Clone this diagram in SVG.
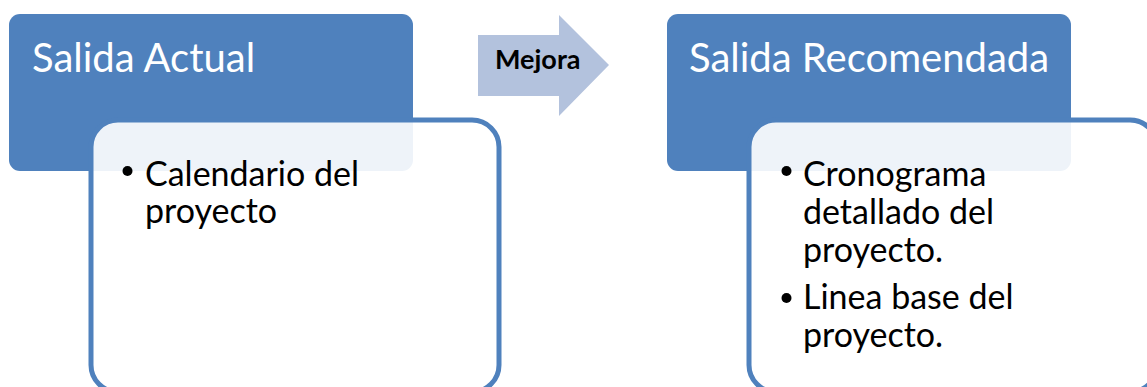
<svg xmlns="http://www.w3.org/2000/svg" width="1147" height="387" viewBox="0 0 1147 387">
  <style>
    .head { fill: #4F81BD; }
    .body { fill: #FFFFFF; fill-opacity: 0.9; stroke: #4F81BD; stroke-width: 5; }
    .title { font-family: Lato, "Liberation Sans", sans-serif; font-size: 40px; fill: #FFFFFF; }
    .item { font-family: Lato, "Liberation Sans", sans-serif; font-size: 34px; fill: #000000; }
    .dot { fill: #000000; }
    .arrow { fill: #B3C2DD; }
    .label { font-family: Lato, "Liberation Sans", sans-serif; font-size: 27px; font-weight: bold; fill: #000000; }
  </style>
  <rect width="1147" height="387" fill="#FFFFFF"/>

  <!-- Current output -->
  <g id="salida-actual">
    <rect class="head" x="9" y="14" width="404" height="157" rx="11"/>
    <text class="title" x="32" y="72">Salida Actual</text>
  </g>
  <g id="salida-actual-detalle">
    <rect class="body" x="91" y="120" width="408" height="272" rx="27"/>
    <circle class="dot" cx="127.5" cy="171" r="5"/>
    <text class="item" x="145" y="186">Calendario del</text>
    <text class="item" x="145" y="223">proyecto</text>
  </g>

  <!-- Recommended output -->
  <g id="salida-recomendada">
    <rect class="head" x="667" y="14" width="404" height="157" rx="11"/>
    <text class="title" x="689" y="72">Salida Recomendada</text>
  </g>
  <g id="salida-recomendada-detalle">
    <rect class="body" x="749" y="120" width="408" height="272" rx="27"/>
    <circle class="dot" cx="786.5" cy="171" r="5"/>
    <text class="item" x="803" y="186">Cronograma</text>
    <text class="item" x="803" y="224">detallado del</text>
    <text class="item" x="803" y="262">proyecto.</text>
    <circle class="dot" cx="786.5" cy="298" r="5"/>
    <text class="item" x="803" y="309">Linea base del</text>
    <text class="item" x="803" y="347">proyecto.</text>
  </g>

  <!-- Improvement arrow -->
  <g id="connectors">
    <g id="mejora">
      <polygon class="arrow" points="478,35 559,35 559,15 609,65 559,116 559,96 478,96"/>
      <text class="label" x="495" y="69">Mejora</text>
    </g>
  </g>
</svg>
